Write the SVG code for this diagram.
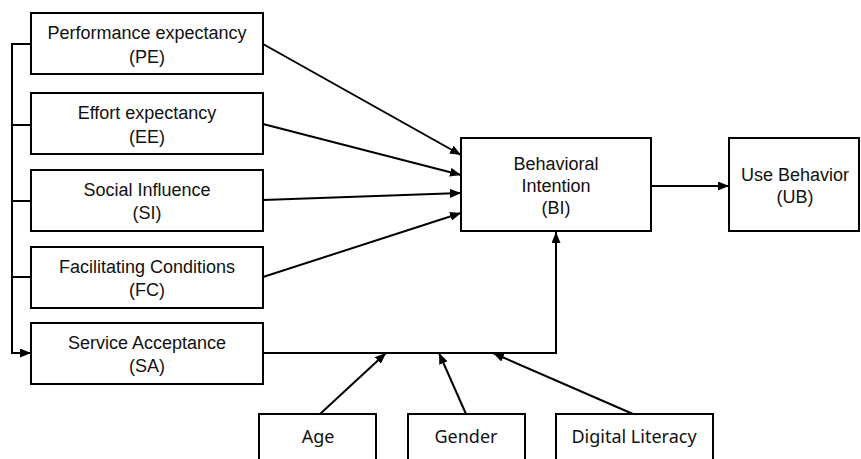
<svg xmlns="http://www.w3.org/2000/svg" width="861" height="459" viewBox="0 0 861 459">
<style>
.box{fill:#fff;stroke:#000;stroke-width:2}
.t{font-family:"Liberation Sans",Arial,sans-serif;font-size:18px;fill:#111;text-anchor:middle}
.b{font-family:"Noto Sans","Open Sans",sans-serif;font-size:18px;fill:#111;text-anchor:middle}
.c{fill:none;stroke:#000;stroke-width:2}
</style>
<defs>
<marker id="ah" markerUnits="userSpaceOnUse" markerWidth="11" markerHeight="9" refX="11" refY="4.5" orient="auto">
<path d="M0,0 L11,4.5 L0,9 z" fill="#000"/>
</marker>
</defs>
<rect width="861" height="459" fill="#fff"/>
<g id="connectors">
<path class="c" d="M31,44 H12 V353 H31" marker-end="url(#ah)"/>
<path class="c" d="M12,125 H31 M12,201 H31 M12,277 H31"/>
<path class="c" d="M263,44 L461,155" marker-end="url(#ah)"/>
<path class="c" d="M263,124 L461,175" marker-end="url(#ah)"/>
<path class="c" d="M263,200 L461,193" marker-end="url(#ah)"/>
<path class="c" d="M263,277 L461,213" marker-end="url(#ah)"/>
<path class="c" d="M263,353 H556 V232" marker-end="url(#ah)"/>
<path class="c" d="M651,186 H729" marker-end="url(#ah)"/>
<path class="c" d="M320,414 L386,353" marker-end="url(#ah)"/>
<path class="c" d="M466,414 L439,353" marker-end="url(#ah)"/>
<path class="c" d="M633,414 L493,353" marker-end="url(#ah)"/>
</g>
<g id="PE"><rect class="box" x="31" y="13" width="232" height="61"/><text class="t" x="147" y="39">Performance expectancy</text><text class="t" x="147" y="63">(PE)</text></g>
<g id="EE"><rect class="box" x="31" y="93" width="232" height="61"/><text class="t" x="147" y="119">Effort expectancy</text><text class="t" x="147" y="143">(EE)</text></g>
<g id="SI"><rect class="box" x="31" y="170" width="232" height="61"/><text class="t" x="147" y="196">Social Influence</text><text class="t" x="147" y="219">(SI)</text></g>
<g id="FC"><rect class="box" x="31" y="247" width="232" height="61"/><text class="t" x="147" y="273">Facilitating Conditions</text><text class="t" x="147" y="296">(FC)</text></g>
<g id="SA"><rect class="box" x="31" y="323" width="232" height="61"/><text class="t" x="147" y="349">Service Acceptance</text><text class="t" x="147" y="372">(SA)</text></g>
<g id="BI"><rect class="box" x="461" y="138" width="190" height="93"/><text class="t" x="556" y="170">Behavioral</text><text class="t" x="556" y="192">Intention</text><text class="t" x="556" y="214">(BI)</text></g>
<g id="UB"><rect class="box" x="729" y="138" width="130" height="93"/><text class="t" x="795" y="181">Use Behavior</text><text class="t" x="795" y="203">(UB)</text></g>
<g id="Age"><rect class="box" x="259" y="414" width="117" height="60"/><text class="b" x="318" y="443">Age</text></g>
<g id="Gender"><rect class="box" x="408" y="414" width="117" height="60"/><text class="b" x="466" y="443">Gender</text></g>
<g id="DL"><rect class="box" x="556" y="414" width="157" height="60"/><text class="b" x="634" y="443">Digital Literacy</text></g>
</svg>
